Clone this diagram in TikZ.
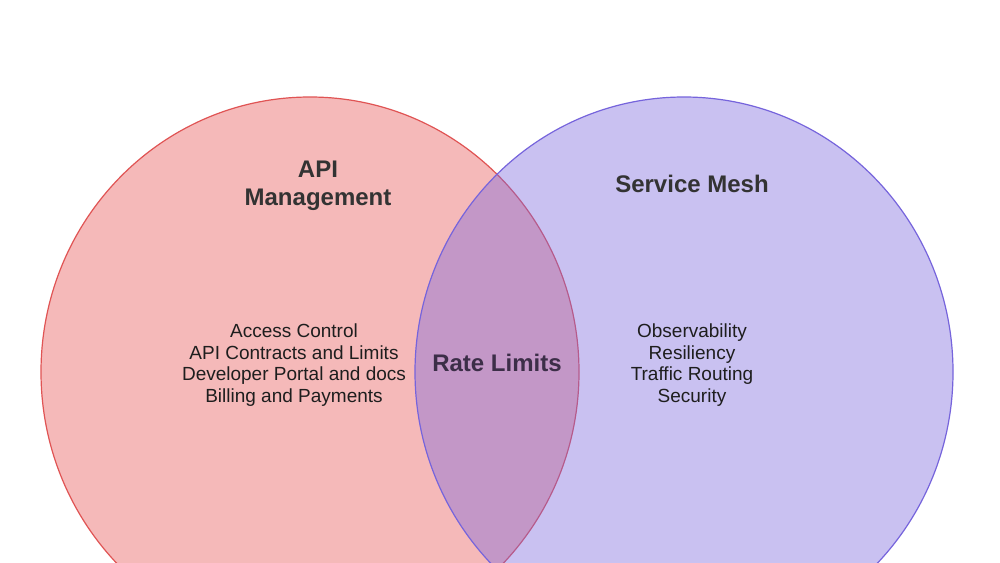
\documentclass[tikz,border=0pt]{standalone}
\usepackage{fontspec}
\setmainfont{Liberation Sans}
\usetikzlibrary{shapes.geometric}
\definecolor{redfill}{RGB}{230,80,80}
\definecolor{redline}{RGB}{224,84,84}
\definecolor{purpfill}{RGB}{120,102,222}
\definecolor{purpline}{RGB}{118,100,220}
\definecolor{titletext}{RGB}{51,51,51}
\definecolor{bodytext}{RGB}{30,30,30}
\definecolor{ratetext}{RGB}{60,46,72}
\tikzset{
  setcircle/.style={ellipse, inner sep=0pt, minimum width=538pt, minimum height=550pt, line width=1.2pt, fill opacity=0.4},
  titlelabel/.style={font=\fontsize{24}{28}\selectfont\bfseries, text=titletext, align=center, inner sep=0pt},
  listlabel/.style={font=\fontsize{19}{21.6}\selectfont, text=bodytext, align=center, inner sep=0pt},
}
\begin{document}
\begin{tikzpicture}[x=1pt,y=-1pt]
\useasboundingbox (0,0) rectangle (1000,562);
\fill[white] (0,0) rectangle (1000,562);
\clip (0,0) rectangle (1000,562);
\node[setcircle, draw=redline, fill=redfill] (apim) at (310,372) {};
\node[setcircle, draw=purpline, fill=purpfill] (mesh) at (684,372) {};
\node[titlelabel] (apititle) at (318,185.5) {API\\Management};
\node[titlelabel] (meshtitle) at (692,184) {Service Mesh};
\node[titlelabel, text=ratetext] (rate) at (497,363) {Rate Limits};
\node[listlabel] (apilist) at (294,365) {Access Control\\API Contracts and Limits\\Developer Portal and docs\\Billing and Payments};
\node[listlabel] (meshlist) at (692,365) {Observability\\Resiliency\\Traffic Routing\\Security};
\end{tikzpicture}
\end{document}
